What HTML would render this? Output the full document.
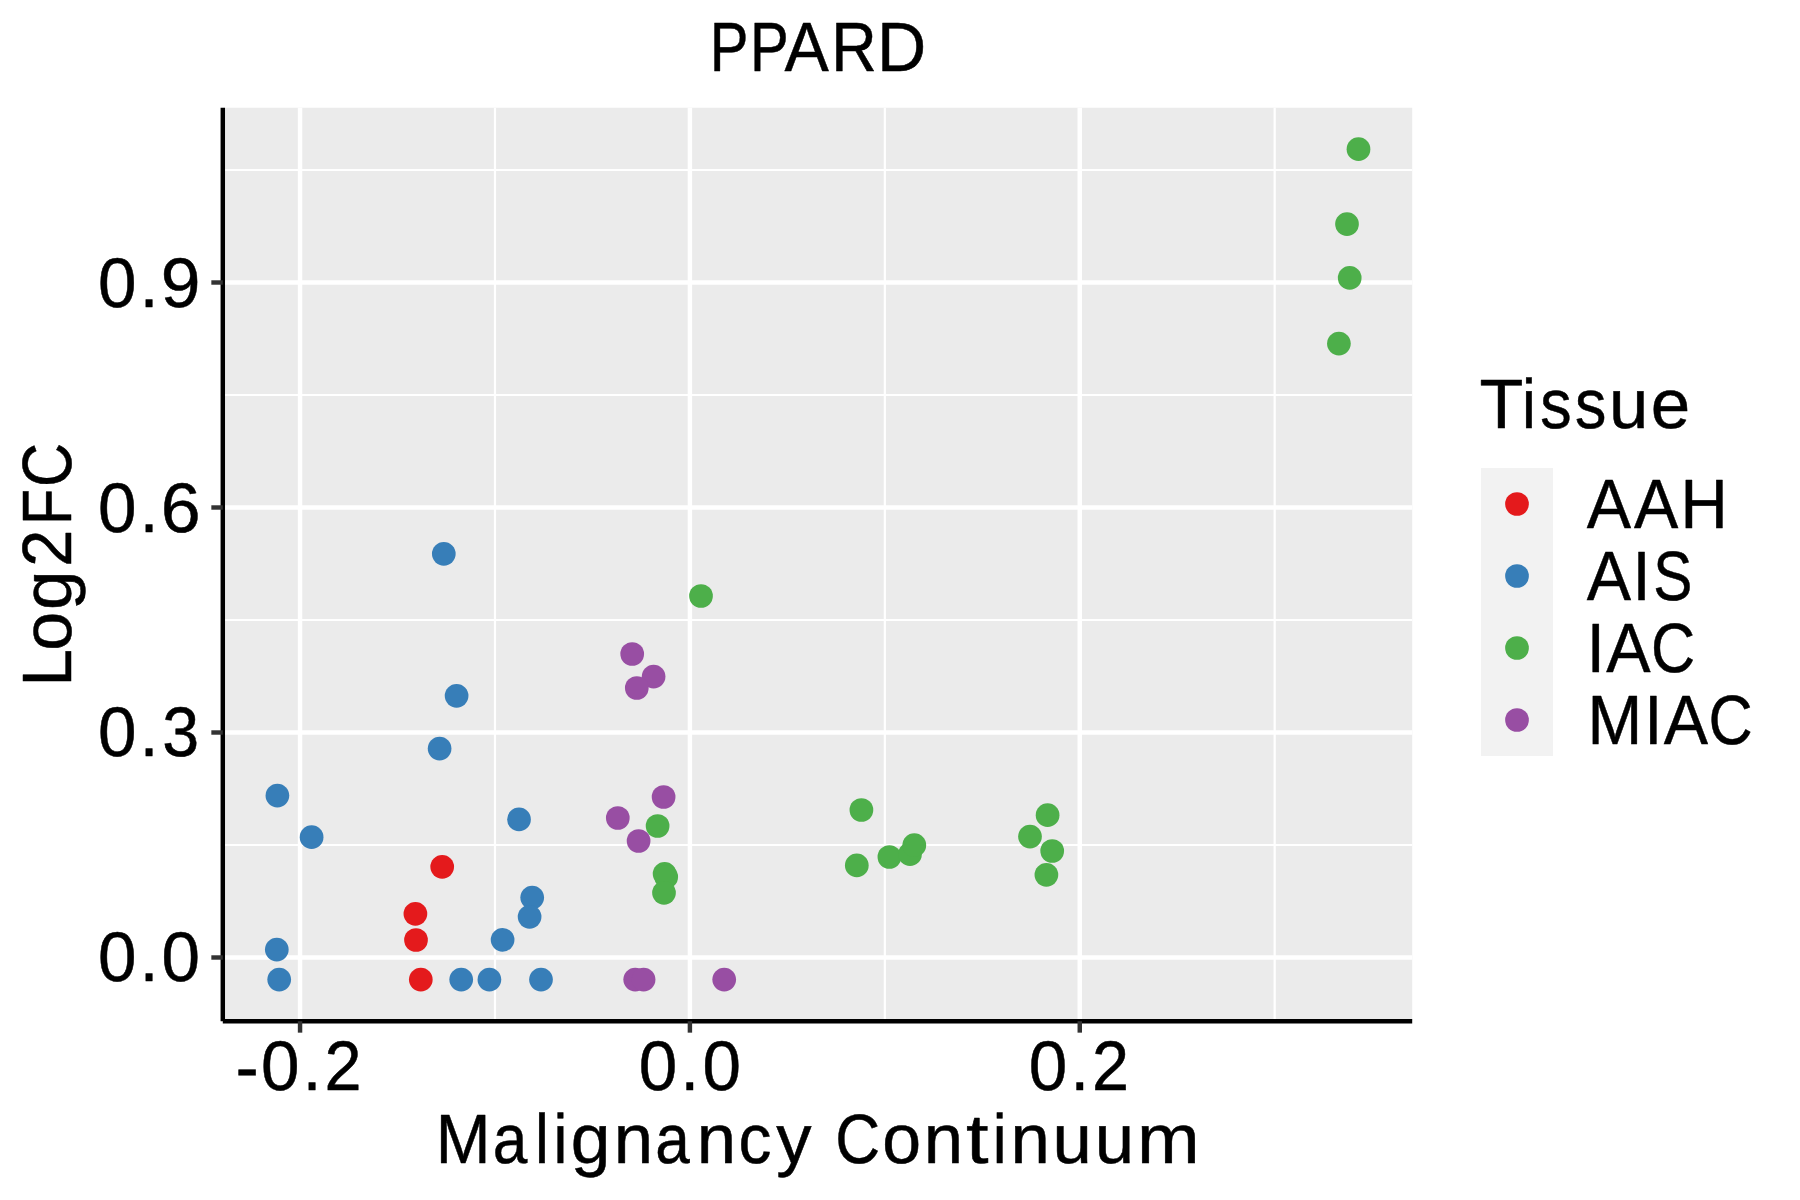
<!DOCTYPE html>
<html><head><meta charset="utf-8"><title>PPARD</title>
<style>html,body{margin:0;padding:0;background:#fff;}body{width:1800px;height:1200px;overflow:hidden;}svg{display:block;}text{font-family:"Liberation Sans",sans-serif;fill:#000;font-kerning:none;font-variant-ligatures:none;white-space:pre;text-rendering:geometricPrecision;stroke:#000;stroke-width:0.5px;stroke-linejoin:round;}</style>
</head><body>
<svg width="1800" height="1200" viewBox="0 0 1800 1200">
<rect x="0" y="0" width="1800" height="1200" fill="#ffffff"/>
<rect x="222.8" y="107.75" width="1189.40" height="913.45" fill="#EBEBEB"/>
<g stroke="#ffffff" stroke-width="2.22" fill="none">
<line x1="222.8" x2="1412.2" y1="170.00" y2="170.00"/>
<line x1="222.8" x2="1412.2" y1="395.00" y2="395.00"/>
<line x1="222.8" x2="1412.2" y1="620.00" y2="620.00"/>
<line x1="222.8" x2="1412.2" y1="845.00" y2="845.00"/>
<line y1="107.75" y2="1021.2" x1="494.97" x2="494.97"/>
<line y1="107.75" y2="1021.2" x1="884.83" x2="884.83"/>
<line y1="107.75" y2="1021.2" x1="1274.67" x2="1274.67"/>
</g>
<g stroke="#ffffff" stroke-width="4.45" fill="none">
<line x1="222.8" x2="1412.2" y1="957.50" y2="957.50"/>
<line x1="222.8" x2="1412.2" y1="732.50" y2="732.50"/>
<line x1="222.8" x2="1412.2" y1="507.50" y2="507.50"/>
<line x1="222.8" x2="1412.2" y1="282.50" y2="282.50"/>
<line y1="107.75" y2="1021.2" x1="300.05" x2="300.05"/>
<line y1="107.75" y2="1021.2" x1="689.90" x2="689.90"/>
<line y1="107.75" y2="1021.2" x1="1079.75" x2="1079.75"/>
</g>
<g fill="#E41A1C">
<circle cx="442.2" cy="866.8" r="11.85"/>
<circle cx="415.4" cy="913.8" r="11.85"/>
<circle cx="416.0" cy="940.0" r="11.85"/>
<circle cx="420.8" cy="979.6" r="11.85"/>
</g>
<g fill="#377EB8">
<circle cx="277.4" cy="795.6" r="11.85"/>
<circle cx="311.6" cy="837.2" r="11.85"/>
<circle cx="519.0" cy="819.4" r="11.85"/>
<circle cx="532.2" cy="897.6" r="11.85"/>
<circle cx="529.6" cy="916.8" r="11.85"/>
<circle cx="502.6" cy="939.8" r="11.85"/>
<circle cx="276.8" cy="949.6" r="11.85"/>
<circle cx="279.2" cy="979.6" r="11.85"/>
<circle cx="461.2" cy="979.6" r="11.85"/>
<circle cx="489.4" cy="979.6" r="11.85"/>
<circle cx="541.0" cy="979.6" r="11.85"/>
<circle cx="443.8" cy="553.8" r="11.85"/>
<circle cx="456.6" cy="695.8" r="11.85"/>
<circle cx="439.6" cy="748.6" r="11.85"/>
</g>
<g fill="#4DAF4A">
<circle cx="701.0" cy="596.0" r="11.85"/>
<circle cx="657.6" cy="826.0" r="11.85"/>
<circle cx="664.6" cy="873.8" r="11.85"/>
<circle cx="666.2" cy="876.9" r="11.85"/>
<circle cx="664.0" cy="892.8" r="11.85"/>
<circle cx="861.4" cy="810.0" r="11.85"/>
<circle cx="856.8" cy="865.4" r="11.85"/>
<circle cx="889.4" cy="857.0" r="11.85"/>
<circle cx="910.0" cy="854.2" r="11.85"/>
<circle cx="914.3" cy="845.2" r="11.85"/>
<circle cx="1047.6" cy="815.2" r="11.85"/>
<circle cx="1030.0" cy="836.6" r="11.85"/>
<circle cx="1052.2" cy="851.0" r="11.85"/>
<circle cx="1046.4" cy="874.8" r="11.85"/>
<circle cx="1358.5" cy="149.2" r="11.85"/>
<circle cx="1347.0" cy="224.1" r="11.85"/>
<circle cx="1349.7" cy="277.9" r="11.85"/>
<circle cx="1338.9" cy="343.6" r="11.85"/>
</g>
<g fill="#984EA3">
<circle cx="632.2" cy="654.0" r="11.85"/>
<circle cx="653.6" cy="676.6" r="11.85"/>
<circle cx="636.8" cy="688.0" r="11.85"/>
<circle cx="663.6" cy="797.0" r="11.85"/>
<circle cx="617.8" cy="818.0" r="11.85"/>
<circle cx="638.6" cy="841.0" r="11.85"/>
<circle cx="635.2" cy="979.6" r="11.85"/>
<circle cx="643.6" cy="979.6" r="11.85"/>
<circle cx="724.2" cy="979.6" r="11.85"/>
</g>
<g stroke="#000000" stroke-width="4.45" fill="none">
<line x1="222.8" x2="222.8" y1="107.75" y2="1021.2"/>
<line x1="222.8" x2="1412.2" y1="1021.2" y2="1021.2"/>
</g>
<g stroke="#333333" stroke-width="4.45" fill="none">
<line x1="211.34" x2="222.8" y1="957.50" y2="957.50"/>
<line x1="211.34" x2="222.8" y1="732.50" y2="732.50"/>
<line x1="211.34" x2="222.8" y1="507.50" y2="507.50"/>
<line x1="211.34" x2="222.8" y1="282.50" y2="282.50"/>
<line y1="1021.2" y2="1032.66" x1="300.05" x2="300.05"/>
<line y1="1021.2" y2="1032.66" x1="689.90" x2="689.90"/>
<line y1="1021.2" y2="1032.66" x1="1079.75" x2="1079.75"/>
</g>
<rect x="1481" y="468" width="72" height="288" fill="#F2F2F2"/>
<circle cx="1517" cy="504" r="11.85" fill="#E41A1C"/>
<circle cx="1517" cy="576" r="11.85" fill="#377EB8"/>
<circle cx="1517" cy="648" r="11.85" fill="#4DAF4A"/>
<circle cx="1517" cy="720" r="11.85" fill="#984EA3"/>
<g>
<text transform="translate(707.80 71)" y="0" font-size="69.77px"><tspan x="2.03" textLength="38.70" lengthAdjust="spacingAndGlyphs">P</tspan><tspan x="42.24" textLength="38.70" lengthAdjust="spacingAndGlyphs">P</tspan><tspan x="76.78" textLength="44.29" lengthAdjust="spacingAndGlyphs">A</tspan><tspan x="123.38" textLength="45.44" lengthAdjust="spacingAndGlyphs">R</tspan><tspan x="169.27" textLength="49.20" lengthAdjust="spacingAndGlyphs">D</tspan></text>
<text transform="translate(95.98 307)" y="0" font-size="70.03px"><tspan x="1.94" textLength="38.50" lengthAdjust="spacingAndGlyphs">0</tspan><tspan x="43.69" textLength="18.58" lengthAdjust="spacingAndGlyphs">.</tspan><tspan x="64.70" textLength="39.77" lengthAdjust="spacingAndGlyphs">9</tspan></text>
<text transform="translate(95.98 532)" y="0" font-size="70.03px"><tspan x="1.94" textLength="38.50" lengthAdjust="spacingAndGlyphs">0</tspan><tspan x="43.69" textLength="18.58" lengthAdjust="spacingAndGlyphs">.</tspan><tspan x="64.87" textLength="39.85" lengthAdjust="spacingAndGlyphs">6</tspan></text>
<text transform="translate(95.98 756)" y="0" font-size="70.03px"><tspan x="1.94" textLength="38.50" lengthAdjust="spacingAndGlyphs">0</tspan><tspan x="43.69" textLength="18.58" lengthAdjust="spacingAndGlyphs">.</tspan><tspan x="66.40" textLength="36.95" lengthAdjust="spacingAndGlyphs">3</tspan></text>
<text transform="translate(95.98 981)" y="0" font-size="70.03px"><tspan x="1.94" textLength="38.50" lengthAdjust="spacingAndGlyphs">0</tspan><tspan x="43.69" textLength="18.58" lengthAdjust="spacingAndGlyphs">.</tspan><tspan x="65.55" textLength="38.50" lengthAdjust="spacingAndGlyphs">0</tspan></text>
<text transform="translate(235.01 1090)" y="0" font-size="70.03px"><tspan x="0.40" y="1.1" textLength="23.25" lengthAdjust="spacingAndGlyphs">-</tspan><tspan x="26.00" y="0" textLength="38.50" lengthAdjust="spacingAndGlyphs">0</tspan><tspan x="67.74" textLength="18.58" lengthAdjust="spacingAndGlyphs">.</tspan><tspan x="89.44" textLength="37.06" lengthAdjust="spacingAndGlyphs">2</tspan></text>
<text transform="translate(636.89 1090)" y="0" font-size="70.03px"><tspan x="1.94" textLength="38.50" lengthAdjust="spacingAndGlyphs">0</tspan><tspan x="43.69" textLength="18.58" lengthAdjust="spacingAndGlyphs">.</tspan><tspan x="65.55" textLength="38.50" lengthAdjust="spacingAndGlyphs">0</tspan></text>
<text transform="translate(1026.74 1090)" y="0" font-size="70.03px"><tspan x="1.94" textLength="38.50" lengthAdjust="spacingAndGlyphs">0</tspan><tspan x="43.69" textLength="18.58" lengthAdjust="spacingAndGlyphs">.</tspan><tspan x="65.39" textLength="37.06" lengthAdjust="spacingAndGlyphs">2</tspan></text>
<text transform="translate(434.33 1163)" y="0" font-size="69.77px"><tspan x="1.40" textLength="54.75" lengthAdjust="spacingAndGlyphs">M</tspan><tspan x="58.33" textLength="34.54" lengthAdjust="spacingAndGlyphs">a</tspan><tspan x="100.70" textLength="13.88" lengthAdjust="spacingAndGlyphs">l</tspan><tspan x="119.25" textLength="13.88" lengthAdjust="spacingAndGlyphs">i</tspan><tspan x="136.35" textLength="39.68" lengthAdjust="spacingAndGlyphs">g</tspan><tspan x="179.34" textLength="39.32" lengthAdjust="spacingAndGlyphs">n</tspan><tspan x="220.80" textLength="34.54" lengthAdjust="spacingAndGlyphs">a</tspan><tspan x="262.45" textLength="39.32" lengthAdjust="spacingAndGlyphs">n</tspan><tspan x="304.23" textLength="32.87" lengthAdjust="spacingAndGlyphs">c</tspan><tspan x="341.81" textLength="35.29" lengthAdjust="spacingAndGlyphs">y</tspan><tspan x="377.10"> </tspan><tspan x="400.91" textLength="44.86" lengthAdjust="spacingAndGlyphs">C</tspan><tspan x="447.94" textLength="38.83" lengthAdjust="spacingAndGlyphs">o</tspan><tspan x="489.34" textLength="39.32" lengthAdjust="spacingAndGlyphs">n</tspan><tspan x="531.55" textLength="22.55" lengthAdjust="spacingAndGlyphs">t</tspan><tspan x="558.47" textLength="13.88" lengthAdjust="spacingAndGlyphs">i</tspan><tspan x="576.25" textLength="39.32" lengthAdjust="spacingAndGlyphs">n</tspan><tspan x="618.22" textLength="39.32" lengthAdjust="spacingAndGlyphs">u</tspan><tspan x="660.47" textLength="39.32" lengthAdjust="spacingAndGlyphs">u</tspan><tspan x="702.71" textLength="62.68" lengthAdjust="spacingAndGlyphs">m</tspan></text>
<text transform="translate(1481.00 428)" y="0" font-size="69.77px"><tspan x="-1.56" textLength="43.87" lengthAdjust="spacingAndGlyphs">T</tspan><tspan x="41.03" textLength="13.88" lengthAdjust="spacingAndGlyphs">i</tspan><tspan x="59.31" textLength="31.38" lengthAdjust="spacingAndGlyphs">s</tspan><tspan x="94.04" textLength="31.38" lengthAdjust="spacingAndGlyphs">s</tspan><tspan x="127.98" textLength="39.32" lengthAdjust="spacingAndGlyphs">u</tspan><tspan x="169.83" textLength="39.46" lengthAdjust="spacingAndGlyphs">e</tspan></text>
<text transform="translate(1586.00 528)" y="0" font-size="69.77px"><tspan x="0.64" textLength="44.29" lengthAdjust="spacingAndGlyphs">A</tspan><tspan x="48.10" textLength="44.29" lengthAdjust="spacingAndGlyphs">A</tspan><tspan x="94.49" textLength="47.25" lengthAdjust="spacingAndGlyphs">H</tspan></text>
<text transform="translate(1586.00 600)" y="0" font-size="69.77px"><tspan x="0.64" textLength="44.29" lengthAdjust="spacingAndGlyphs">A</tspan><tspan x="46.39" textLength="18.10" lengthAdjust="spacingAndGlyphs">I</tspan><tspan x="67.25" textLength="39.06" lengthAdjust="spacingAndGlyphs">S</tspan></text>
<text transform="translate(1586.00 672)" y="0" font-size="69.77px"><tspan x="0.78" textLength="18.10" lengthAdjust="spacingAndGlyphs">I</tspan><tspan x="20.30" textLength="44.29" lengthAdjust="spacingAndGlyphs">A</tspan><tspan x="64.99" textLength="44.12" lengthAdjust="spacingAndGlyphs">C</tspan></text>
<text transform="translate(1586.00 744)" y="0" font-size="69.77px"><tspan x="1.40" textLength="54.75" lengthAdjust="spacingAndGlyphs">M</tspan><tspan x="58.30" textLength="18.10" lengthAdjust="spacingAndGlyphs">I</tspan><tspan x="77.82" textLength="44.29" lengthAdjust="spacingAndGlyphs">A</tspan><tspan x="122.51" textLength="44.12" lengthAdjust="spacingAndGlyphs">C</tspan></text>
<text transform="translate(71 687.67) rotate(-90)" y="0" font-size="69.77px"><tspan x="1.26" textLength="37.51" lengthAdjust="spacingAndGlyphs">L</tspan><tspan x="36.97" textLength="38.83" lengthAdjust="spacingAndGlyphs">o</tspan><tspan x="77.69" textLength="39.68" lengthAdjust="spacingAndGlyphs">g</tspan><tspan x="120.86" textLength="37.06" lengthAdjust="spacingAndGlyphs">2</tspan><tspan x="162.62" textLength="36.26" lengthAdjust="spacingAndGlyphs">F</tspan><tspan x="200.73" textLength="44.12" lengthAdjust="spacingAndGlyphs">C</tspan></text>
</g>
</svg>
</body></html>
